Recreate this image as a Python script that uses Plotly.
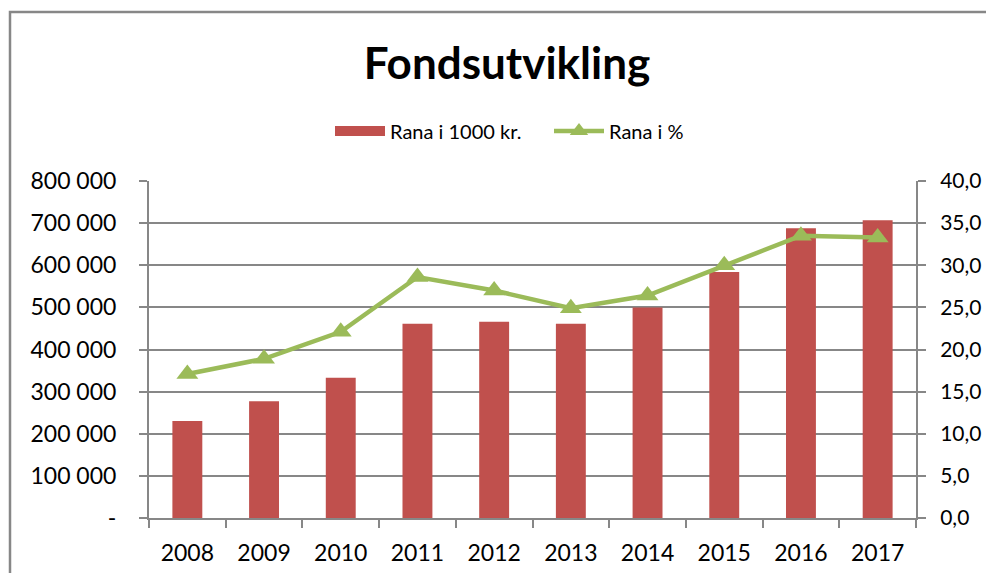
import plotly.graph_objects as go

years = ["2008", "2009", "2010", "2011", "2012", "2013", "2014", "2015", "2016", "2017"]
rana_1000kr = [230000, 277000, 333000, 461000, 466000, 461000, 500000, 584000, 688000, 707000]
rana_pct = [17.1, 18.9, 22.1, 28.6, 27.0, 24.9, 26.4, 30.0, 33.5, 33.3]

left_ticks = [0, 100000, 200000, 300000, 400000, 500000, 600000, 700000, 800000]
left_labels = ["-", "100 000", "200 000", "300 000", "400 000", "500 000", "600 000", "700 000", "800 000"]
right_ticks = [0, 5, 10, 15, 20, 25, 30, 35, 40]
right_labels = ["0,0", "5,0", "10,0", "15,0", "20,0", "25,0", "30,0", "35,0", "40,0"]

FONT = "Lato, 'Open Sans', sans-serif"
GRID = "#878787"
RED = "#C0504D"
GREEN = "#9BBB59"

# page offset caused by the default 8px body margin
OFF = 8
W, H = 994 - 2 * OFF, 581 - 2 * OFF
L = 149 - OFF
R = W - (916 - OFF)
T = 181 - OFF
B = H - (518 - OFF)
pw, ph = W - L - R, H - T - B


def px(x):
    return (x - OFF - L) / pw


def py(y):
    return (H - B - (y - OFF)) / ph


fig = go.Figure()
fig.add_trace(go.Bar(
    x=years, y=rana_1000kr, name="Rana i 1000 kr.",
    marker=dict(color=RED, line=dict(width=0)),
    yaxis="y", showlegend=False,
))
# legend entry drawn as a wide red block like the original
fig.add_trace(go.Scatter(
    x=[None], y=[None], name="Rana i 1000 kr.", mode="lines",
    line=dict(color=RED, width=12), yaxis="y",
))
fig.add_trace(go.Scatter(
    x=years, y=rana_pct, name="Rana i %", mode="lines+markers",
    line=dict(color=GREEN, width=4.5),
    marker=dict(symbol="triangle-up", size=19, color=GREEN),
    yaxis="y2",
))

fig.update_layout(
    width=W, height=H,
    margin=dict(l=L, r=R, t=T, b=B, autoexpand=False),
    paper_bgcolor="white", plot_bgcolor="white",
    font=dict(family=FONT, size=23, color="black"),
    bargap=0.61,
    showlegend=True,
    title=dict(text="<b>Fondsutvikling</b>", x=(507 - OFF) / W, xanchor="center",
               y=1 - (64 - OFF) / H, yanchor="middle", yref="container",
               font=dict(family=FONT, size=44, color="black")),
    legend=dict(orientation="h", x=px(330), xanchor="left", y=py(131), yanchor="middle",
                font=dict(family=FONT, size=20), itemwidth=50, entrywidth=154,
                traceorder="normal", bgcolor="rgba(0,0,0,0)"),
    xaxis=dict(type="category", range=[-0.5, len(years) - 0.5], autorange=False,
               showgrid=False, showline=True, linecolor=GRID, linewidth=2,
               ticks="outside", tickson="boundaries", ticklen=8, tickcolor=GRID, tickwidth=2,
               tickfont=dict(size=23), ticklabelstandoff=13),
    yaxis=dict(range=[0, 800000], tickvals=left_ticks, ticktext=left_labels,
               showgrid=True, gridcolor=GRID, gridwidth=2, zeroline=False,
               showline=True, linecolor=GRID, linewidth=2,
               ticks="outside", ticklen=8, tickcolor=GRID, tickwidth=2,
               tickfont=dict(size=23), ticklabelstandoff=18),
    yaxis2=dict(range=[0, 40], tickvals=right_ticks, ticktext=right_labels,
                overlaying="y", side="right", showgrid=False, zeroline=False,
                showline=True, linecolor=GRID, linewidth=2,
                ticks="outside", ticklen=8, tickcolor=GRID, tickwidth=2,
                tickfont=dict(size=21), ticklabelstandoff=10),
    shapes=[dict(type="rect", xref="paper", yref="paper",
                 x0=px(10), x1=px(1040), y0=py(640), y1=py(12),
                 line=dict(color=GRID, width=2.5), fillcolor="rgba(0,0,0,0)", layer="below")],
)

fig.write_html("out.html")
